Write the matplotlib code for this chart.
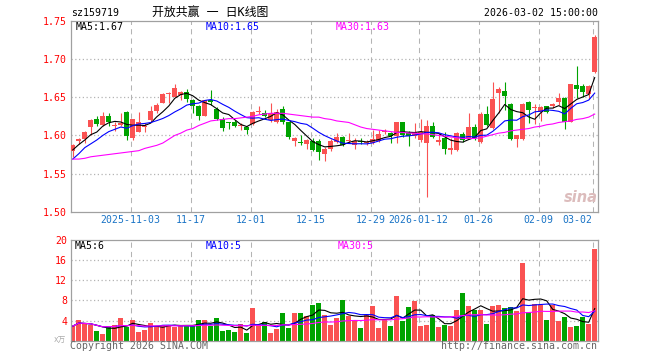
import matplotlib
matplotlib.use('Agg')
import matplotlib.pyplot as plt
import matplotlib.transforms as mtransforms
import numpy as np
import pandas as pd

plt.rcParams['font.family'] = ['DejaVu Sans Mono', 'Noto Sans CJK SC']

code = 'sz159719'
title = '开放共赢 一 日K线图'
stamp = '2026-03-02 15:00:00'

# daily candles, 2025-10-20 .. 2026-03-02
opens = [1.580, 1.593, 1.595, 1.611, 1.621, 1.614, 1.626, 1.613, 1.614, 1.631,
         1.596, 1.605, 1.611, 1.620, 1.632, 1.643, 1.654, 1.651, 1.653, 1.657,
         1.647, 1.638, 1.626, 1.646, 1.635, 1.621, 1.617, 1.617, 1.612, 1.611,
         1.615, 1.631, 1.629, 1.620, 1.617, 1.634, 1.617, 1.593, 1.591, 1.589,
         1.593, 1.593, 1.575, 1.582, 1.592, 1.598, 1.593, 1.587, 1.592, 1.590,
         1.590, 1.593, 1.605, 1.603, 1.599, 1.617, 1.603, 1.599, 1.594, 1.590,
         1.613, 1.591, 1.596, 1.581, 1.581, 1.602, 1.597, 1.611, 1.592, 1.628,
         1.610, 1.655, 1.658, 1.641, 1.595, 1.595, 1.644, 1.636, 1.631, 1.638,
         1.638, 1.644, 1.649, 1.618, 1.666, 1.665, 1.654, 1.683]
highs = [1.589, 1.597, 1.606, 1.622, 1.625, 1.631, 1.629, 1.617, 1.630, 1.632,
         1.622, 1.631, 1.616, 1.638, 1.643, 1.655, 1.657, 1.668, 1.658, 1.661,
         1.648, 1.640, 1.647, 1.660, 1.637, 1.624, 1.617, 1.620, 1.616, 1.612,
         1.632, 1.638, 1.633, 1.643, 1.634, 1.638, 1.618, 1.598, 1.600, 1.595,
         1.596, 1.595, 1.585, 1.595, 1.603, 1.599, 1.603, 1.597, 1.596, 1.594,
         1.607, 1.607, 1.608, 1.604, 1.618, 1.618, 1.606, 1.616, 1.621, 1.620,
         1.618, 1.603, 1.604, 1.596, 1.605, 1.604, 1.629, 1.615, 1.631, 1.638,
         1.670, 1.664, 1.670, 1.642, 1.601, 1.642, 1.645, 1.641, 1.638, 1.639,
         1.642, 1.656, 1.650, 1.668, 1.691, 1.667, 1.666, 1.731]
lows = [1.572, 1.589, 1.590, 1.600, 1.613, 1.613, 1.613, 1.606, 1.612, 1.594,
        1.594, 1.604, 1.605, 1.618, 1.630, 1.642, 1.643, 1.650, 1.647, 1.644,
        1.630, 1.620, 1.625, 1.640, 1.620, 1.606, 1.609, 1.611, 1.607, 1.602,
        1.614, 1.628, 1.624, 1.618, 1.616, 1.615, 1.595, 1.586, 1.587, 1.582,
        1.579, 1.568, 1.567, 1.580, 1.590, 1.586, 1.590, 1.582, 1.589, 1.588,
        1.589, 1.592, 1.602, 1.590, 1.590, 1.598, 1.586, 1.596, 1.591, 1.519,
        1.596, 1.588, 1.575, 1.575, 1.580, 1.592, 1.596, 1.594, 1.590, 1.612,
        1.609, 1.630, 1.633, 1.594, 1.585, 1.594, 1.616, 1.615, 1.619, 1.630,
        1.636, 1.640, 1.609, 1.617, 1.649, 1.651, 1.648, 1.682]
closes = [1.587, 1.595, 1.605, 1.620, 1.615, 1.626, 1.617, 1.614, 1.616, 1.599,
          1.621, 1.617, 1.612, 1.632, 1.640, 1.654, 1.655, 1.662, 1.657, 1.648,
          1.638, 1.626, 1.646, 1.644, 1.621, 1.610, 1.616, 1.612, 1.613, 1.607,
          1.631, 1.632, 1.626, 1.629, 1.631, 1.617, 1.598, 1.597, 1.590, 1.594,
          1.581, 1.578, 1.582, 1.593, 1.598, 1.587, 1.594, 1.593, 1.591, 1.592,
          1.595, 1.602, 1.606, 1.599, 1.617, 1.600, 1.599, 1.604, 1.605, 1.612,
          1.598, 1.594, 1.582, 1.583, 1.603, 1.594, 1.611, 1.596, 1.628, 1.614,
          1.648, 1.661, 1.652, 1.595, 1.600, 1.641, 1.633, 1.637, 1.637, 1.631,
          1.641, 1.649, 1.618, 1.667, 1.661, 1.657, 1.665, 1.729]
# volume, 10k lots
volumes = [2.9, 4.1, 3.3, 3.1, 1.9, 1.3, 2.9, 3.1, 4.5, 2.7,
           4.1, 1.7, 2.1, 3.45, 3.0, 3.1, 3.1, 2.8, 3.1, 3.1,
           3.1, 4.1, 4.1, 2.9, 4.5, 1.9, 2.1, 1.7, 3.3, 1.5,
           6.5, 3.1, 3.7, 1.5, 2.3, 5.5, 2.5, 5.5, 5.5, 4.9,
           7.1, 7.5, 5.1, 3.1, 4.5, 8.0, 4.9, 4.1, 2.5, 5.1,
           6.9, 2.5, 4.1, 2.9, 8.9, 4.0, 6.7, 7.9, 2.9, 3.1,
           5.1, 2.7, 3.1, 2.9, 6.1, 9.5, 6.9, 6.1, 6.1, 3.3,
           6.9, 7.1, 6.5, 6.7, 5.9, 15.5, 5.7, 7.3, 7.0, 4.1,
           7.0, 4.0, 4.7, 2.7, 2.9, 4.7, 3.3, 18.3]

ma5_head = [1.581, 1.588, 1.594, 1.601]
ma10_head = [1.569, 1.576, 1.584, 1.589, 1.594, 1.600, 1.605, 1.608, 1.611]
ma30 = [1.569, 1.569, 1.570, 1.572, 1.573, 1.574, 1.575, 1.576, 1.577, 1.578,
        1.579, 1.580, 1.583, 1.585, 1.587, 1.590, 1.595, 1.600, 1.603, 1.607,
        1.609, 1.613, 1.616, 1.619, 1.620, 1.621, 1.622, 1.622, 1.623, 1.624,
        1.625, 1.627, 1.628, 1.629, 1.629, 1.629, 1.628, 1.627, 1.626, 1.625,
        1.624, 1.624, 1.622, 1.621, 1.619, 1.618, 1.617, 1.614, 1.611, 1.609,
        1.608, 1.607, 1.606, 1.605, 1.604, 1.604, 1.603, 1.603, 1.602, 1.602,
        1.601, 1.600, 1.599, 1.598, 1.597, 1.596, 1.596, 1.596, 1.597, 1.599,
        1.601, 1.603, 1.604, 1.606, 1.607, 1.608, 1.609, 1.611, 1.612, 1.614,
        1.615, 1.617, 1.618, 1.619, 1.621, 1.622, 1.624, 1.628]

tick_idx = [10, 20, 30, 40, 50, 58, 68, 78, 87]
tick_labels = ['2025-11-03', '11-17', '12-01', '12-15', '12-29',
               '2026-01-12', '01-26', '02-09', '03-02']

price_ma_text = ['MA5:1.67', 'MA10:1.65', 'MA30:1.63']
vol_ma_text = ['MA5:6', 'MA10:5', 'MA30:5']

RED = '#fa5252'
GREEN = '#00a300'
GRID = '#b4b4b4'
FRAME = '#a0a0a0'
MA_COLS = ['black', '#0000ff', '#ff00ff']
FS = 7.15

W, H = 660, 360


def box(l, t, r, b):
    return [l / W, 1 - b / H, (r - l) / W, (b - t) / H]


def moving_avg(values, n, head):
    out = pd.Series(values).rolling(n).mean().to_numpy()
    out[:len(head)] = head
    return out


def main():
    o = np.array(opens)
    h = np.array(highs)
    lo = np.array(lows)
    c = np.array(closes)
    v = np.array(volumes)
    x = np.arange(len(c))
    col = np.where(c >= o, RED, GREEN)

    fig = plt.figure(figsize=(6.6, 3.6), dpi=100)
    ax = fig.add_axes(box(70.7, 21, 598, 211.7))
    axv = fig.add_axes(box(70.7, 240, 598, 340.7))

    for a in (ax, axv):
        a.set_xlim(-0.35, len(c) - 0.45)
        for s in a.spines.values():
            s.set_color(FRAME)
            s.set_linewidth(0.9)
        a.tick_params(length=0, labelcolor='red', labelsize=FS, pad=2.5)
        a.set_xticks([])
        for i in tick_idx:
            a.axvline(i - 0.33, color=GRID, lw=0.75, ls=(0, (5, 4)), zorder=0)

    # price panel
    ax.set_ylim(1.50, 1.75)
    ax.set_yticks([1.50, 1.55, 1.60, 1.65, 1.70, 1.75])
    ax.set_yticklabels(['%.2f' % t for t in ax.get_yticks()])
    for t in [1.55, 1.60, 1.65, 1.70]:
        ax.axhline(t, color=GRID, lw=0.9, ls=(0, (1, 2)), zorder=0)

    ax.vlines(x, lo, h, colors=col, lw=0.8, zorder=2)
    body = np.maximum(np.abs(c - o), 0.0012)
    ax.bar(x, body, bottom=np.minimum(o, c), width=0.82, color=col,
           linewidth=0, zorder=3)

    ax.plot(x, moving_avg(c, 5, ma5_head), color=MA_COLS[0], lw=0.8, zorder=4)
    ax.plot(x, moving_avg(c, 10, ma10_head), color=MA_COLS[1], lw=0.8, zorder=4)
    ax.plot(x, ma30, color=MA_COLS[2], lw=0.8, zorder=4)

    # volume panel
    axv.set_ylim(0, 20)
    axv.set_yticks([4, 8, 12, 16, 20])
    for t in [4, 8, 12, 16]:
        axv.axhline(t, color=GRID, lw=0.9, ls=(0, (1, 2)), zorder=0)
    axv.bar(x, v, width=0.82, color=col, linewidth=0, zorder=2)
    vs = pd.Series(v)
    for n, mc in zip([5, 10, 30], MA_COLS):
        axv.plot(x, vs.rolling(n, min_periods=1).mean(), color=mc, lw=0.8, zorder=3)

    # date labels under the price panel
    tr = mtransforms.blended_transform_factory(ax.transData, fig.transFigure)
    for k, (i, lab) in enumerate(zip(tick_idx, tick_labels)):
        ha = 'right' if k == len(tick_idx) - 1 else 'center'
        fig.text(i - 0.33, 1 - 220 / H, lab, transform=tr, ha=ha, va='center',
                 color='#1a74c6', fontsize=FS)

    # MA legends
    for px, txt, mc in zip([75.5, 206, 336], price_ma_text, MA_COLS):
        fig.text(px / W, 1 - 26.5 / H, txt, color=mc, fontsize=FS, va='center')
    for px, txt, mc in zip([75, 206, 338], vol_ma_text, MA_COLS):
        fig.text(px / W, 1 - 246 / H, txt, color=mc, fontsize=FS, va='center')

    # header: mono spaces and K, CJK glyphs from Noto
    fig.text(70.7 / W, 1 - 12.7 / H, code, fontsize=FS, va='center')
    fig.text(151.5 / W, 1 - 12.7 / H, title, fontsize=8.6, va='center')
    fig.text(598 / W, 1 - 12.7 / H, stamp, fontsize=FS, va='center', ha='right')

    # footer
    fig.text(69.5 / W, 1 - 346 / H, 'Copyright 2026 SINA.COM', fontsize=FS,
             va='center', color='#666666')
    fig.text(597 / W, 1 - 346 / H, 'http://finance.sina.com.cn', fontsize=FS,
             va='center', ha='right', color='#666666')
    fig.text(66 / W, 1 - 340 / H, 'x万', fontsize=5.5, va='center', ha='right',
             color='#aaaaaa')

    # watermark
    fig.text(581 / W, 1 - 197 / H, 'sina', fontsize=10.5, ha='center', va='center',
             color='#dcbcbc', style='italic', weight='bold',
             family=['DejaVu Sans'])

    fig.savefig('out.png', dpi=100, facecolor='white')


if __name__ == '__main__':
    main()
